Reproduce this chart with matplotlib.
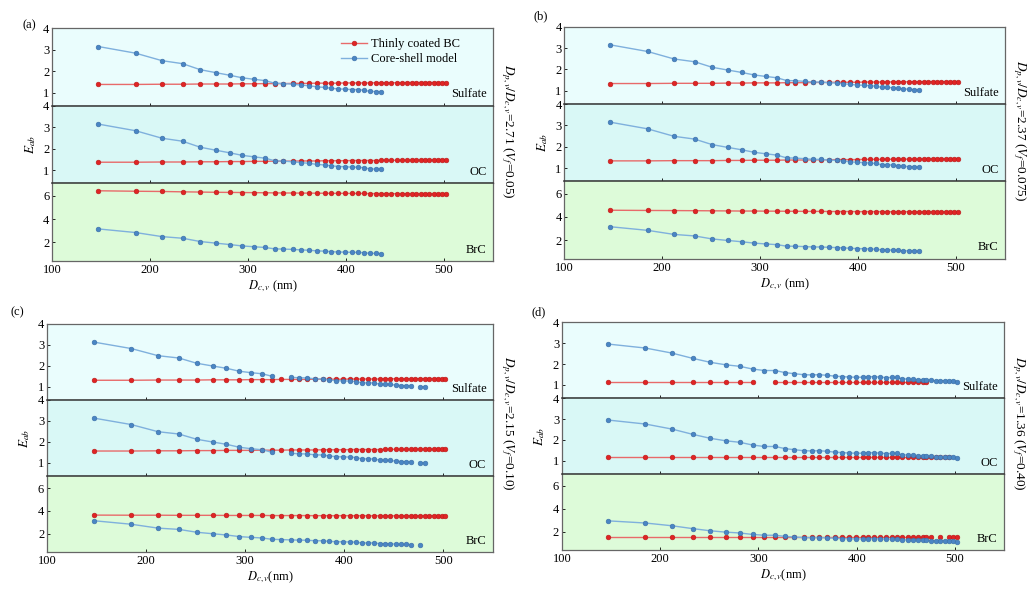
import numpy as np
import matplotlib.pyplot as plt

plt.rcParams['font.family'] = ['Liberation Serif', 'DejaVu Serif']
plt.rcParams['mathtext.fontset'] = 'stix'
plt.rcParams['font.size'] = 8.5

# core diameters (nm)
dc = [147, 185, 212, 233, 251, 267, 281, 294, 306, 317,
      327, 336, 346, 354, 362, 370, 378, 385, 392, 399,
      406, 412, 418, 424, 430, 436, 441, 446, 452, 457,
      462, 467, 471, 476, 481, 485, 490, 494, 498, 502]

# core-shell model E_ab
cs_a = [3.15, 2.84, 2.49, 2.35, 2.07, 1.93, 1.81, 1.69, 1.62, 1.56,
        1.44, 1.42, 1.39, 1.35, 1.32, 1.27, 1.24, 1.20, 1.17, 1.16,
        1.14, 1.14, 1.11, 1.06, 1.05, 1.04]
cs_b = [3.15, 2.84, 2.49, 2.36, 2.10, 1.97, 1.86, 1.74, 1.67, 1.61,
        1.48, 1.47, 1.44, 1.41, 1.41, 1.38, 1.36, 1.33, 1.30, 1.27,
        1.26, 1.24, 1.22, 1.16, 1.16, 1.14, 1.11, 1.09, 1.07, 1.06, 1.05]
cs_c = [3.14, 2.83, 2.49, 2.38, 2.13, 2.00, 1.89, 1.75, 1.68, 1.63,
        1.51, None, 1.46, 1.44, 1.43, 1.39, 1.38, 1.33, 1.30, 1.29,
        1.28, 1.26, 1.19, 1.20, 1.19, 1.13, 1.13, 1.12, 1.09, 1.07,
        1.06, 1.05, None, 1.01, 1.01]
cs_c_brc = [3.14, 2.83, 2.49, 2.38, 2.13, 2.00, 1.89, 1.75, 1.68, 1.63,
            1.51, 1.49, 1.46, 1.44, 1.43, 1.39, 1.38, 1.33, 1.30, 1.29,
            1.28, 1.26, 1.19, 1.20, 1.19, 1.13, 1.13, 1.12, 1.09, 1.07,
            1.06, 1.05, None, 1.01]
cs_d = [2.95, 2.76, 2.52, 2.27, 2.08, 1.96, 1.89, 1.76, 1.69, 1.69,
        1.59, 1.54, 1.49, 1.48, 1.49, 1.46, 1.42, 1.40, 1.38, 1.37,
        1.37, 1.40, 1.39, 1.38, 1.35, 1.36, 1.36, 1.30, 1.28, 1.27,
        1.26, 1.25, 1.24, 1.23, 1.19, 1.21, 1.20, 1.20, 1.17, 1.13]

# thinly coated BC E_ab
tc_a_sul = [1.38, 1.38, 1.39, 1.39, 1.40, 1.40, 1.40, 1.41, 1.41, 1.42,
            1.42, 1.42, 1.43, 1.43, 1.43, 1.44, 1.44, 1.44, 1.44, 1.45,
            1.45, 1.45, 1.45, 1.45, 1.46, 1.46, 1.46, 1.46, 1.46, 1.46,
            1.47, 1.47, 1.47, 1.47, 1.47, 1.47, 1.47, 1.47, 1.47, 1.47]
tc_a_oc = [1.37, 1.37, 1.38, 1.38, 1.39, 1.39, 1.40, 1.40, 1.41, 1.41,
           1.42, 1.42, 1.42, 1.43, 1.43, 1.43, 1.44, 1.44, 1.44, 1.44,
           1.45, 1.45, 1.45, 1.45, 1.45, 1.46, 1.46, 1.46, 1.46, 1.46,
           1.46, 1.47, 1.47, 1.47, 1.47, 1.47, 1.47, 1.47, 1.47, 1.47]
tc_a_brc = [6.42, 6.38, 6.36, 6.33, 6.31, 6.29, 6.28, 6.27, 6.26, 6.25,
            6.24, 6.23, 6.23, 6.22, 6.22, 6.21, 6.21, 6.20, 6.20, 6.20,
            6.19, 6.19, 6.19, 6.18, 6.18, 6.18, 6.18, 6.17, 6.17, 6.17,
            6.17, 6.17, 6.16, 6.16, 6.16, 6.16, 6.16, 6.16, 6.16, 6.16]
tc_b_sul = [1.34, 1.34, 1.35, 1.35, 1.35, 1.36, 1.36, 1.37, 1.37, 1.37,
            1.38, 1.38, 1.38, 1.39, 1.39, 1.39, 1.40, 1.40, 1.40, 1.40,
            1.41, 1.41, 1.41, 1.41, 1.41, 1.42, 1.42, 1.42, 1.42, 1.42,
            1.42, 1.43, 1.43, 1.43, 1.43, 1.43, 1.43, 1.43, 1.43, 1.43]
tc_b_oc = tc_b_sul
tc_b_brc = [4.57, 4.55, 4.54, 4.53, 4.52, 4.51, 4.50, 4.50, 4.49, 4.49,
            4.48, 4.48, 4.47, 4.47, 4.47, 4.46, 4.46, 4.46, 4.46, 4.45,
            4.45, 4.45, 4.45, 4.45, 4.44, 4.44, 4.44, 4.44, 4.44, 4.44,
            4.43, 4.43, 4.43, 4.43, 4.43, 4.43, 4.43, 4.43, 4.43, 4.43]
tc_c_sul = [1.32, 1.32, 1.33, 1.33, 1.33, 1.34, 1.34, 1.34, 1.35, 1.35,
            1.35, 1.36, 1.36, 1.36, 1.36, 1.37, 1.37, 1.37, 1.37, 1.37,
            1.38, 1.38, 1.38, 1.38, 1.38, 1.38, 1.39, 1.39, 1.39, 1.39,
            1.39, 1.39, 1.39, 1.40, 1.40, 1.40, 1.40, 1.40, 1.40, 1.40]
tc_c_oc = [1.57, 1.57, 1.58, 1.58, 1.59, 1.59, 1.60, 1.60, 1.60, 1.61,
           1.61, 1.61, 1.62, 1.62, 1.62, 1.62, 1.63, 1.63, 1.63, 1.63,
           1.64, 1.64, 1.64, 1.64, 1.64, 1.64, 1.65, 1.65, 1.65, 1.65,
           1.65, 1.65, 1.65, 1.66, 1.66, 1.66, 1.66, 1.66, 1.66, 1.66]
tc_c_brc = [3.63, 3.62, 3.62, 3.61, 3.61, 3.61, 3.60, 3.60, 3.60, 3.60,
            3.59, 3.59, 3.59, 3.59, 3.59, 3.58, 3.58, 3.58, 3.58, 3.58,
            3.58, 3.58, 3.58, 3.57, 3.57, 3.57, 3.57, 3.57, 3.57, 3.57,
            3.57, 3.57, 3.57, 3.57, 3.57, 3.57, 3.57, 3.57, 3.57, 3.57]
tc_d_sul = [1.16, 1.16, 1.16, 1.16, 1.16, 1.16, 1.16, 1.16, None, 1.16,
            1.16, 1.16, 1.16, 1.16, 1.16, 1.16, 1.16, 1.16, 1.16, 1.16,
            1.16, 1.16, 1.16, 1.16, 1.16, 1.16, 1.16, 1.16, 1.16, 1.16,
            1.16, 1.16, 1.16]
tc_d_oc = [1.20, 1.20, 1.20, 1.20, 1.20, 1.20, 1.20, 1.20, 1.20, 1.20,
           1.20, 1.20, 1.20, 1.20, 1.20, 1.20, 1.20, 1.20, 1.20, 1.20,
           1.20, 1.20, 1.20, 1.20, 1.20, 1.20, 1.20, 1.20, 1.20, 1.20,
           1.20, 1.20, 1.20, 1.20, 1.20, 1.20, 1.20, 1.20]
tc_d_brc = [1.52, 1.52, 1.52, 1.52, 1.52, 1.52, 1.52, 1.52, 1.52, 1.52,
            1.52, 1.52, 1.52, 1.52, 1.52, 1.52, 1.52, 1.52, 1.52, 1.52,
            1.52, 1.52, 1.52, 1.52, 1.52, 1.52, 1.52, 1.52, 1.52, 1.52,
            1.52, 1.52, 1.52, 1.52, None, 1.52, None, 1.52, 1.52, 1.52]

materials = ['Sulfate', 'OC', 'BrC']
BG = {'Sulfate': '#eafdfd', 'OC': '#d9f8f6', 'BrC': '#ddfbd9'}
YLIM = {'Sulfate': (0.38, 4.0), 'OC': (0.38, 4.0), 'BrC': (0.4, 7.05)}
YTICKS = {'Sulfate': [1, 2, 3, 4], 'OC': [1, 2, 3, 4], 'BrC': [2, 4, 6]}

RED_LINE, RED_MK = '#e86a6a', '#e02424'
BLUE_LINE, BLUE_MK = '#7fb0dd', '#4a86c4'


def to_arr(vals):
    return np.array([np.nan if v is None else v for v in vals], dtype=float)


def draw_panel(fig, rect, tag, tag_pos, tc, cs, ratio, vf, xlab, right_y, legend=False):
    left, bottom, width, height = rect
    h = height / 3
    for i, mat in enumerate(materials):
        ax = fig.add_axes([left, bottom + (2 - i) * h, width, h])
        ax.set_facecolor(BG[mat])
        y1 = to_arr(tc[i])
        ax.plot(dc[:len(y1)], y1, '-o', color=RED_LINE, lw=1.0, ms=3.4,
                mfc=RED_MK, mec='#b81c1c', mew=0.4, label='Thinly coated BC')
        y2 = to_arr(cs[i])
        ax.plot(dc[:len(y2)], y2, '-o', color=BLUE_LINE, lw=1.0, ms=3.4,
                mfc=BLUE_MK, mec='#3a6ea6', mew=0.4, label='Core-shell model')
        ax.set_xlim(100, 550)
        ax.set_ylim(*YLIM[mat])
        ax.set_yticks(YTICKS[mat])
        ax.set_xticks([100, 200, 300, 400, 500])
        ax.tick_params(direction='in', length=2.5, width=0.6, pad=2,
                       labelsize=9, top=False, right=False)
        if i < 2:
            ax.tick_params(labelbottom=False)
        for s in ax.spines.values():
            s.set_color('#666666')
            s.set_linewidth(0.9)
        if i > 0:
            ax.spines['top'].set_color('#333333')
            ax.spines['top'].set_linewidth(1.1)
        ax.text(0.985, 0.07, mat, transform=ax.transAxes, ha='right',
                va='bottom', fontsize=9)
        if i == 1:
            ax.set_ylabel('$E_{ab}$', fontsize=9.5, labelpad=4)
        if i == 2:
            ax.set_xlabel(xlab, fontsize=9, labelpad=2)
        if legend and i == 0:
            ax.legend(loc='upper left', bbox_to_anchor=(0.655, 0.87),
                      frameon=False, fontsize=9, handlelength=2.1,
                      handletextpad=0.3, labelspacing=0.2,
                      borderaxespad=0, borderpad=0)
    fig.text(tag_pos[0], tag_pos[1], tag, ha='center', va='center', fontsize=9)
    fig.text(left + width + 0.006, right_y,
             '$D_{p,v}/D_{c,v}$=%s ($V_f$=%s)' % (ratio, vf),
             rotation=270, ha='left', va='center', fontsize=9.5)


fig = plt.figure(figsize=(10.33, 5.96), dpi=100)

draw_panel(fig, [0.0506, 0.5621, 0.4267, 0.3904], '(a)', (0.028, 0.957),
           [tc_a_sul, tc_a_oc, tc_a_brc], [cs_a, cs_a, cs_a],
           '2.71', '0.05', '$D_{c,v}$ (nm)', 0.78, legend=True)
draw_panel(fig, [0.5463, 0.5659, 0.4266, 0.3893], '(b)', (0.523, 0.973),
           [tc_b_sul, tc_b_oc, tc_b_brc], [cs_b, cs_b, cs_b],
           '2.37', '0.075', '$D_{c,v}$ (nm)', 0.78)
draw_panel(fig, [0.0455, 0.0738, 0.4318, 0.3826], '(c)', (0.017, 0.476),
           [tc_c_sul, tc_c_oc, tc_c_brc], [cs_c, cs_c, cs_c_brc],
           '2.15', '0.10', '$D_{c,v}$(nm)', 0.29)
draw_panel(fig, [0.5440, 0.0772, 0.4280, 0.3825], '(d)', (0.521, 0.476),
           [tc_d_sul, tc_d_oc, tc_d_brc], [cs_d, cs_d, cs_d],
           '1.36', '0.40', '$D_{c,v}$(nm)', 0.29)

fig.savefig('out.png', dpi=100)
